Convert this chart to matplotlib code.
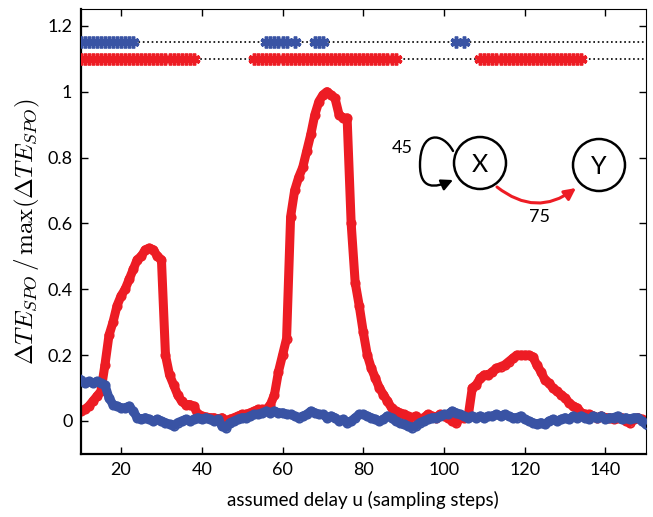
import numpy as np
import matplotlib
matplotlib.use("Agg")
import matplotlib.pyplot as plt
from matplotlib.patches import Circle, FancyArrowPatch
from matplotlib.path import Path

plt.rcParams["mathtext.fontset"] = "cm"

# assumed delay (sampling steps)
delay = list(range(10, 151))

# X -> Y direction (red)
te_xy = [0.03, 0.035, 0.045, 0.06, 0.075, 0.09, 0.17, 0.26, 0.3, 0.35,
         0.38, 0.4, 0.43, 0.46, 0.49, 0.5, 0.52, 0.525, 0.52, 0.5,
         0.49, 0.2, 0.14, 0.11, 0.08, 0.06, 0.05, 0.05, 0.045, 0.02,
         0.015, 0.012, 0.01, 0.01, 0.005, 0.01, 0.0, 0.005, 0.01, 0.015,
         0.02, 0.02, 0.025, 0.03, 0.035, 0.035, 0.035, 0.05, 0.08, 0.15,
         0.2, 0.25, 0.62, 0.7, 0.74, 0.77, 0.82, 0.87, 0.93, 0.97,
         0.99, 1.0, 0.99, 0.98, 0.93, 0.92, 0.92, 0.6, 0.42, 0.35,
         0.27, 0.2, 0.16, 0.13, 0.1, 0.08, 0.06, 0.04, 0.03, 0.025,
         0.02, 0.015, 0.01, 0.015, 0.005, 0.01, 0.02, 0.015, 0.01, 0.02,
         0.015, 0.01, 0.0, -0.005, 0.01, 0.01, 0.015, 0.1, 0.11, 0.13,
         0.14, 0.14, 0.15, 0.16, 0.165, 0.17, 0.18, 0.19, 0.2, 0.2,
         0.2, 0.2, 0.195, 0.17, 0.15, 0.125, 0.115, 0.1, 0.09, 0.08,
         0.07, 0.055, 0.045, 0.04, 0.025, 0.02, 0.02, 0.015, 0.01, 0.015,
         0.01, 0.01, 0.005, 0.01, 0.01, 0.0, -0.005, 0.005, 0.01, 0.005,
         0.0]

# Y -> X direction (blue)
te_yx = [0.125, 0.115, 0.12, 0.115, 0.12, 0.115, 0.11, 0.07, 0.05, 0.045,
         0.04, 0.04, 0.045, 0.03, 0.01, 0.005, 0.01, 0.005, 0.0, 0.005,
         0.0, -0.005, -0.01, -0.015, -0.005, 0.0, 0.005, 0.0, 0.005, 0.01,
         0.005, 0.01, 0.005, 0.0, 0.005, -0.015, -0.02, -0.005, 0.0, 0.005,
         0.01, 0.01, 0.015, 0.02, 0.02, 0.025, 0.03, 0.025, 0.03, 0.025,
         0.025, 0.02, 0.02, 0.015, 0.01, 0.015, 0.02, 0.03, 0.025, 0.02,
         0.02, 0.01, 0.015, 0.01, 0.0, 0.005, -0.005, 0.0, 0.01, 0.02,
         0.02, 0.015, 0.01, 0.005, 0.0, 0.005, 0.015, 0.01, 0.0, -0.005,
         -0.01, -0.015, -0.02, -0.015, -0.005, 0.0, 0.005, 0.01, 0.01, 0.015,
         0.02, 0.02, 0.03, 0.025, 0.02, 0.015, 0.01, 0.015, 0.01, 0.015,
         0.01, 0.015, 0.015, 0.02, 0.015, 0.02, 0.015, 0.01, 0.01, 0.015,
         0.005, 0.0, -0.005, -0.01, -0.005, -0.01, 0.0, 0.005, 0.0, 0.005,
         0.01, 0.005, 0.015, 0.01, 0.015, 0.01, 0.005, 0.015, 0.01, 0.015,
         0.005, 0.01, 0.01, 0.015, 0.005, 0.01, 0.005, 0.01, 0.01, 0.0,
         -0.01]

# significant delays
sig_yx = list(range(10, 24)) + list(range(56, 62)) + [63] + [68, 69, 70] + [103, 105]
sig_xy = list(range(10, 39)) + list(range(53, 89)) + list(range(109, 135))
row_yx = 1.15
row_xy = 1.1

red = "#ED1C24"
blue = "#3953A4"

fig = plt.figure(figsize=(6.53, 5.17), dpi=100)
ax = fig.add_axes([0.1236, 0.122, 0.8654, 0.860])

ax.plot(delay, te_xy, "-o", color=red, lw=6.5, ms=6, mfc="none", mew=1.3, zorder=2)
ax.plot(delay, te_yx, "-o", color=blue, lw=6.5, ms=6, mfc="none", mew=1.3, zorder=3)

ax.axhline(row_yx, color="black", ls=":", lw=1.2, zorder=1)
ax.axhline(row_xy, color="black", ls=":", lw=1.2, zorder=1)
ax.plot(sig_yx, [row_yx] * len(sig_yx), ls="none", marker=(6, 2, 0), ms=8.5, mew=2.5,
        color=blue, zorder=3)
ax.plot(sig_xy, [row_xy] * len(sig_xy), ls="none", marker=(6, 2, 0), ms=8.5, mew=2.5,
        color=red, zorder=3)

ax.set_xlim(10, 150)
ax.set_ylim(-0.1, 1.25)
ax.set_xticks([20, 40, 60, 80, 100, 120, 140])
ax.set_yticks([0, 0.2, 0.4, 0.6, 0.8, 1, 1.2])
ax.set_yticklabels(["0", "0.2", "0.4", "0.6", "0.8", "1", "1.2"])
ax.tick_params(direction="in", length=5, width=1, top=True, right=True,
               labelsize=13, pad=6)
for lab in ax.get_xticklabels() + ax.get_yticklabels():
    lab.set_fontfamily("Lato")
for s in ["left", "bottom"]:
    ax.spines[s].set_linewidth(1.6)
for s in ["top", "right"]:
    ax.spines[s].set_linewidth(0.8)

ax.set_xlabel("assumed delay u (sampling steps)", fontsize=13.5, fontfamily="Lato",
              labelpad=9)
ax.set_ylabel(r"$\Delta TE_{SPO}\,/\,\max(\Delta TE_{SPO})$", fontsize=18, labelpad=4)

# network sketch (pixel units of the figure region)
ins = fig.add_axes([380 / 653, 1 - 235 / 517, 250 / 653, 115 / 517])
ins.set_xlim(0, 250)
ins.set_ylim(115, 0)
ins.axis("off")
ins.add_patch(Circle((100, 43), 26, fill=False, lw=1.8, color="black"))
ins.add_patch(Circle((219, 45), 26, fill=False, lw=1.8, color="black"))
ins.text(100, 44, "X", fontsize=18, ha="center", va="center", fontfamily="Lato")
ins.text(219, 46, "Y", fontsize=18, ha="center", va="center", fontfamily="Lato")
ins.text(22, 28, "45", fontsize=13, ha="center", va="center", fontfamily="Lato")
ins.text(160, 97, "75", fontsize=13, ha="center", va="center", fontfamily="Lato")

loop = Path([(73, 31), (63, 12), (40, 10), (40, 45), (40, 70), (55, 68), (73, 60)],
            [Path.MOVETO, Path.CURVE4, Path.CURVE4, Path.CURVE4,
             Path.CURVE4, Path.CURVE4, Path.CURVE4])
ins.add_patch(FancyArrowPatch(path=loop, arrowstyle="-|>", mutation_scale=17,
                              lw=1.7, color="black"))
ins.add_patch(FancyArrowPatch((117, 67), (196, 68), connectionstyle="arc3,rad=0.38",
                              arrowstyle="-|>", mutation_scale=17, lw=2.2, color=red,
                              shrinkA=0, shrinkB=0))

fig.savefig("out.png", dpi=100)
